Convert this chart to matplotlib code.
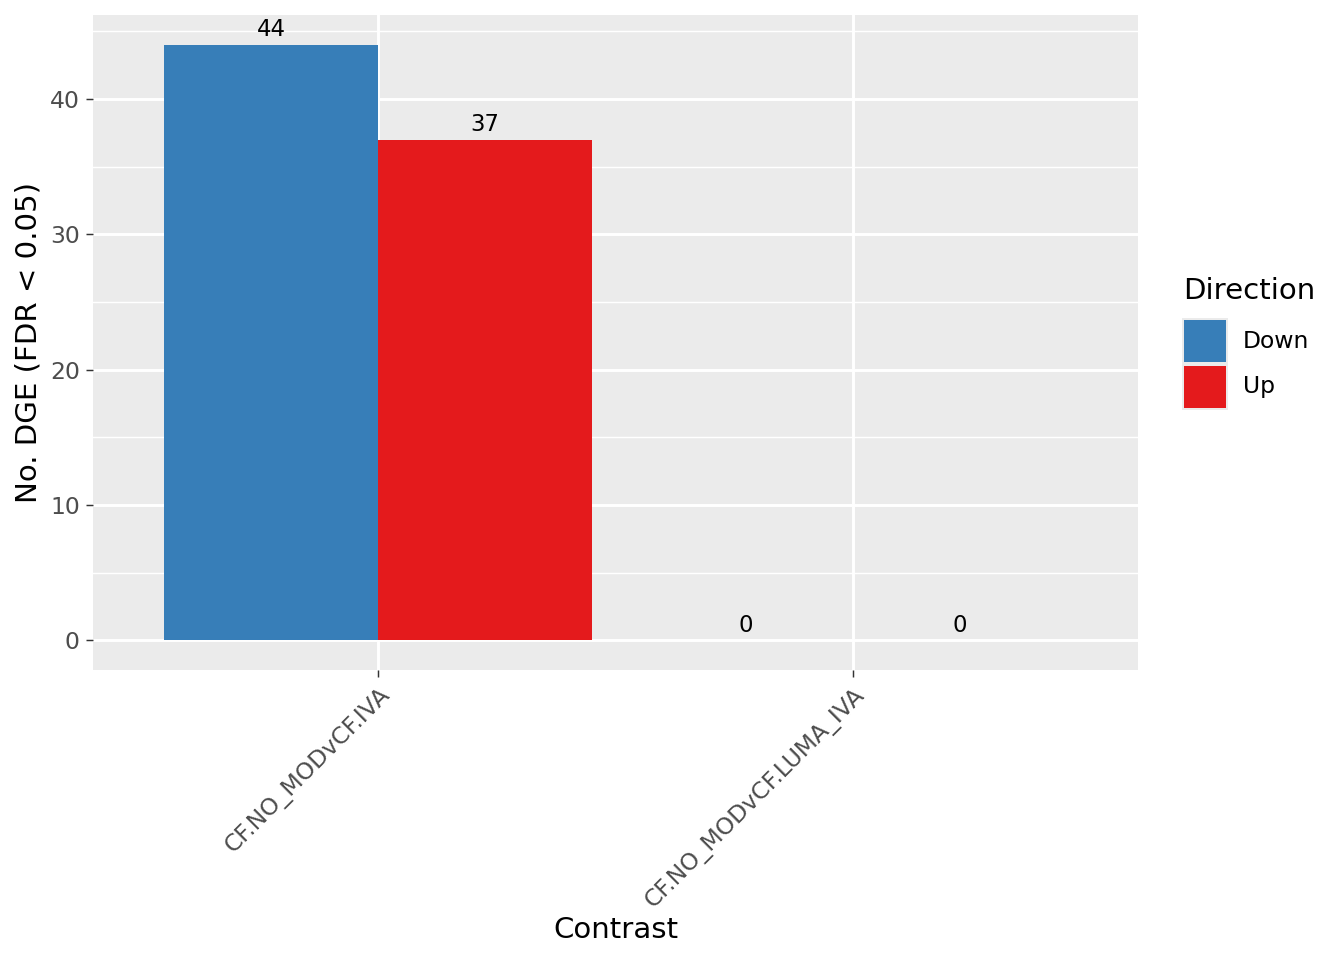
import matplotlib
matplotlib.use("Agg")
import matplotlib.pyplot as plt
from matplotlib.patches import Rectangle
import numpy as np

contrasts = ["CF.NO_MODvCF.IVA", "CF.NO_MODvCF.LUMA_IVA"]
directions = ["Down", "Up"]
down_vals = [44, 0]
up_vals = [37, 0]
colors = {"Down": "#377EB8", "Up": "#E41A1C"}
yticks = [0, 10, 20, 30, 40]

plt.rcParams['font.family'] = ['DejaVu Sans']
fig = plt.figure(figsize=(6.72, 4.8), dpi=200)
W, H = 1344, 960
ax = fig.add_axes([93 / W, 1 - 670 / H, (1138 - 93) / W, (670 - 15) / H])
ax.set_facecolor("#EBEBEB")

x = np.arange(1, len(contrasts) + 1)
width = 0.45
series = {"Down": down_vals, "Up": up_vals}
offsets = {"Down": -width / 2, "Up": width / 2}
for d in directions:
    vals = series[d]
    ax.bar(x + offsets[d], vals, width=width, color=colors[d], zorder=3)
    for xi, v in zip(x, vals):
        ax.annotate(str(v), (xi + offsets[d], v), xytext=(0, 1.3), textcoords="offset points",
                    ha="center", va="bottom", fontsize=8.2, color="black", zorder=4)

ymax = max(max(down_vals), max(up_vals))
ax.set_ylim(-0.05 * ymax, 1.05 * ymax)
ax.set_xlim(0.4, len(contrasts) + 0.6)
ax.set_yticks(yticks)
ax.set_yticks([5, 15, 25, 35, 45], minor=True)
ax.set_xticks(x)
ax.set_xticklabels(contrasts, rotation=45, ha="right", va="top", rotation_mode="anchor")
ax.grid(which="major", color="white", linewidth=1.05, zorder=0)
ax.grid(which="minor", axis="y", color="white", linewidth=0.53, zorder=0)
ax.set_axisbelow(True)
for s in ax.spines.values():
    s.set_visible(False)
ax.tick_params(axis="both", which="major", length=2.65, width=0.53, color="#333333",
               labelsize=8.45, labelcolor="#4D4D4D", pad=2.1)
ax.tick_params(which="minor", length=0)
ax.set_xlabel("Contrast", fontsize=10.56, labelpad=1.5)
ax.set_ylabel("No. DGE (FDR < 0.05)", fontsize=10.56, labelpad=2.5)

# legend drawn manually
fig.text(1183 / W, 1 - 291 / H, "Direction", fontsize=10.56, ha="left", va="center")
key_top = 318
key_h = 46
for i, d in enumerate(directions):
    y0 = key_top + i * key_h
    fig.add_artist(Rectangle((1182 / W, 1 - (y0 + key_h) / H), 46 / W, key_h / H,
                             transform=fig.transFigure, facecolor="#EBEBEB", edgecolor="none"))
    fig.add_artist(Rectangle((1184 / W, 1 - (y0 + key_h - 2) / H), 42 / W, (key_h - 4) / H,
                             transform=fig.transFigure, facecolor=colors[d], edgecolor="none"))
    fig.text(1243 / W, 1 - (y0 + key_h / 2) / H, d, fontsize=8.45, ha="left", va="center")

fig.savefig("out.png", dpi=200, facecolor="white")
